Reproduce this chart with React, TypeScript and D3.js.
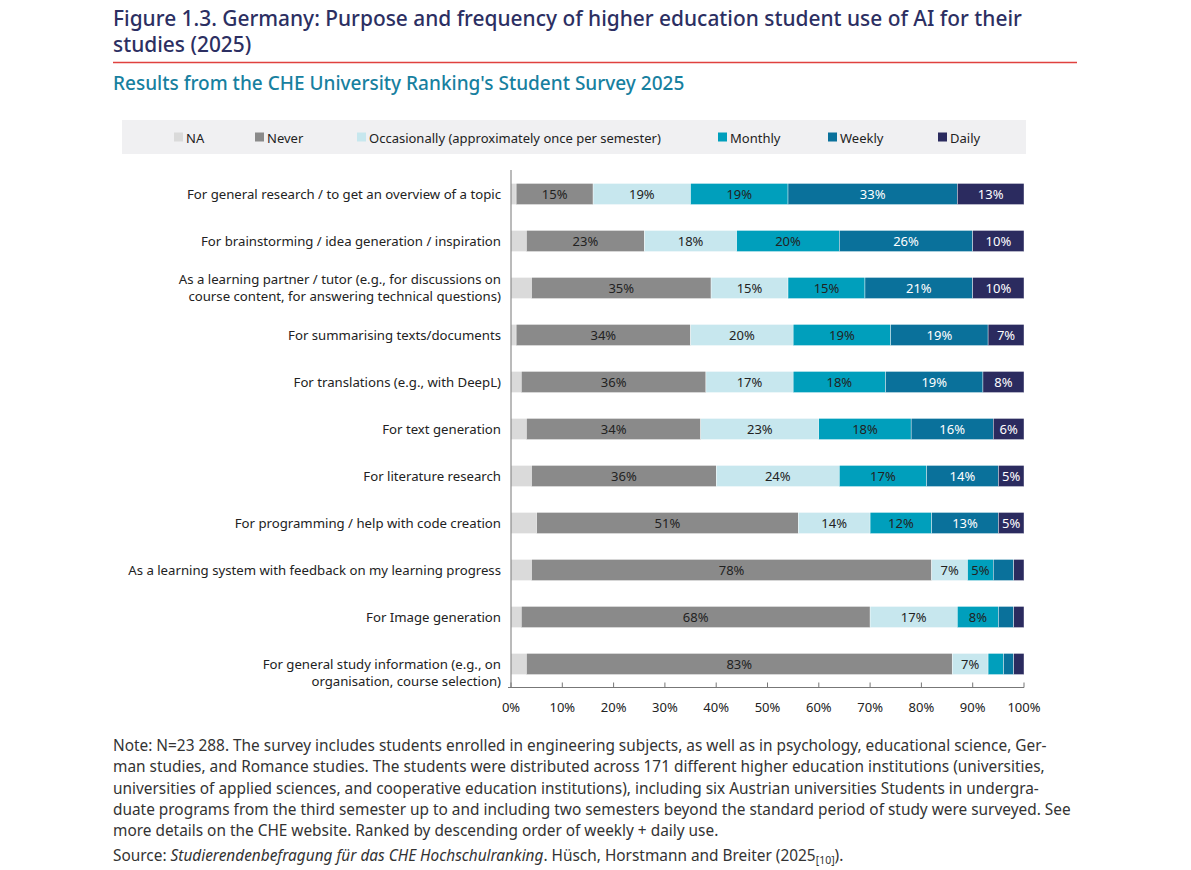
import React from "react";
import * as d3 from "d3";

// Survey purposes, ordered by descending weekly + daily use
const categories: string[][] = [
  ["For general research / to get an overview of a topic"],
  ["For brainstorming / idea generation / inspiration"],
  ["As a learning partner / tutor (e.g., for discussions on", "course content, for answering technical questions)"],
  ["For summarising texts/documents"],
  ["For translations (e.g., with DeepL)"],
  ["For text generation"],
  ["For literature research"],
  ["For programming / help with code creation"],
  ["As a learning system with feedback on my learning progress"],
  ["For Image generation"],
  ["For general study information (e.g., on", "organisation, course selection)"],
];

const seriesNames = ["NA", "Never", "Occasionally (approximately once per semester)", "Monthly", "Weekly", "Daily"];

// Shares in % per category, one array per frequency
const naValues = [1, 3, 4, 1, 2, 3, 4, 5, 4, 2, 3];
const neverValues = [15, 23, 35, 34, 36, 34, 36, 51, 78, 68, 83];
const occasionallyValues = [19, 18, 15, 20, 17, 23, 24, 14, 7, 17, 7];
const monthlyValues = [19, 20, 15, 19, 18, 18, 17, 12, 5, 8, 3];
const weeklyValues = [33, 26, 21, 19, 19, 16, 14, 13, 4, 3, 2];
const dailyValues = [13, 10, 10, 7, 8, 6, 5, 5, 2, 2, 2];

const xTicks = [0, 10, 20, 30, 40, 50, 60, 70, 80, 90, 100];

const seriesColors = ["#dadada", "#8a8a8a", "#c7e7ee", "#009fbc", "#0a719b", "#2b2b5f"];
const labelColors = ["#222", "#222", "#222", "#222", "#fff", "#fff"];
const legendX = [174, 255, 357, 718, 828, 938];

const noteLines = [
  "Note: N=23 288. The survey includes students enrolled in engineering subjects, as well as in psychology, educational science, Ger-",
  "man studies, and Romance studies. The students were distributed across 171 different higher education institutions (universities,",
  "universities of applied sciences, and cooperative education institutions), including six Austrian universities Students in undergra-",
  "duate programs from the third semester up to and including two semesters beyond the standard period of study were surveyed. See",
  "more details on the CHE website. Ranked by descending order of weekly + daily use.",
];

const FONT = "'Noto Sans', 'Open Sans', sans-serif";
const STRETCH = "semi-condensed";

export default function App() {
  const width = 1191;
  const height = 870;

  const rows = categories.map((c, i) => ({
    key: String(i),
    lines: c,
    // the last label hangs below its bar's centre line
    anchorFirst: i === categories.length - 1,
    values: [naValues[i], neverValues[i], occasionallyValues[i], monthlyValues[i], weeklyValues[i], dailyValues[i]],
  }));

  const x = d3.scaleLinear().domain([0, 100]).range([511, 1024]);
  const y = d3
    .scaleBand<string>()
    .domain(rows.map((r) => r.key))
    .range([170.5, 687.5])
    .paddingInner(0.55)
    .paddingOuter(0.275);

  const stackData = rows.map((r) => {
    const o: Record<string, number | string> = { key: r.key };
    r.values.forEach((v, j) => (o["s" + j] = v));
    return o;
  });
  const stack = d3.stack<Record<string, number | string>>().keys(seriesNames.map((_, j) => "s" + j));
  const layers = stack(stackData as any);

  const axisY = 687.5;

  return (
    <svg width={width} height={height} style={{ display: "block", position: "absolute", left: 0, top: 0 }} fontFamily={FONT}>
      <rect width={width} height={height} fill="#fff" />
      {/* Title block */}
      <g fill="#2c2f62" fontSize={20.9} fontWeight={500} style={{ fontStretch: STRETCH }}>
        <text x={113} y={26}>Figure 1.3. Germany: Purpose and frequency of higher education student use of AI for their</text>
        <text x={113} y={52}>studies (2025)</text>
      </g>
      <line x1={113} x2={1077} y1={62.5} y2={62.5} stroke="#e0413f" strokeWidth={1.5} />
      <text x={113} y={90} fill="#17809f" fontSize={19} fontWeight={500} style={{ fontStretch: STRETCH }}>
        Results from the CHE University Ranking's Student Survey 2025
      </text>

      {/* Legend */}
      <rect x={122} y={120} width={904} height={34} fill="#f0f0f2" />
      {seriesNames.map((name, j) => (
        <g key={name}>
          <rect x={legendX[j]} y={132.5} width={9} height={9} fill={seriesColors[j]} />
          <text x={legendX[j] + 12} y={142.5} fontSize={13} fill="#222" style={{ fontStretch: STRETCH }}>
            {name}
          </text>
        </g>
      ))}

      {/* Bars */}
      {layers.map((layer, j) => (
        <g key={j}>
          {layer.map((d, i) => {
            const y0 = y(rows[i].key)!;
            const bw = y.bandwidth();
            const x0 = x(d[0]);
            const x1 = x(d[1]);
            const v = rows[i].values[j];
            return (
              <g key={i}>
                <rect x={x0} y={y0} width={Math.max(0, x1 - x0)} height={bw} fill={seriesColors[j]} stroke="#fff" strokeWidth={0.4} />
                {j > 0 && v >= 5 && (
                  <text
                    x={(x0 + x1) / 2}
                    y={y0 + bw / 2 + 4.8}
                    textAnchor="middle"
                    fontSize={13}
                    fill={labelColors[j]}
                    style={{ fontStretch: STRETCH }}
                  >
                    {v}%
                  </text>
                )}
              </g>
            );
          })}
        </g>
      ))}

      {/* Category labels */}
      {rows.map((r) => {
        const cy = y(r.key)! + y.bandwidth() / 2;
        const n = r.lines.length;
        const shift = r.anchorFirst ? 0 : (n - 1) / 2;
        return (
          <text key={r.key} textAnchor="end" fontSize={13.2} fill="#222" style={{ fontStretch: STRETCH }}>
            {r.lines.map((l, k) => (
              <tspan key={k} x={501} y={cy + 4.5 + (k - shift) * 17}>
                {l}
              </tspan>
            ))}
          </text>
        );
      })}

      {/* Axes */}
      <line x1={x(0)} x2={x(0)} y1={170} y2={axisY} stroke="#777" strokeWidth={1} />
      <line x1={x(0) - 3} x2={x(100)} y1={axisY} y2={axisY} stroke="#777" strokeWidth={1} />
      {xTicks.map((t) => (
        <g key={t}>
          <line x1={x(t)} x2={x(t)} y1={axisY - 5} y2={axisY} stroke="#777" strokeWidth={1} />
          <text x={x(t)} y={712} textAnchor="middle" fontSize={13} fill="#222" style={{ fontStretch: STRETCH }}>
            {t}%
          </text>
        </g>
      ))}

      {/* Notes */}
      <g fontSize={15.4} fill="#333" style={{ fontStretch: STRETCH }}>
        {noteLines.map((l, k) => (
          <text key={k} x={113} y={751 + k * 21.3}>
            {l}
          </text>
        ))}
        <text x={113} y={861}>
          Source: <tspan fontStyle="italic">Studierendenbefragung für das CHE Hochschulranking</tspan>. Hüsch, Horstmann and Breiter (2025
          <tspan fontSize={10.5} dy={3}>[10]</tspan>
          <tspan dy={-3}>).</tspan>
        </text>
      </g>
    </svg>
  );
}
